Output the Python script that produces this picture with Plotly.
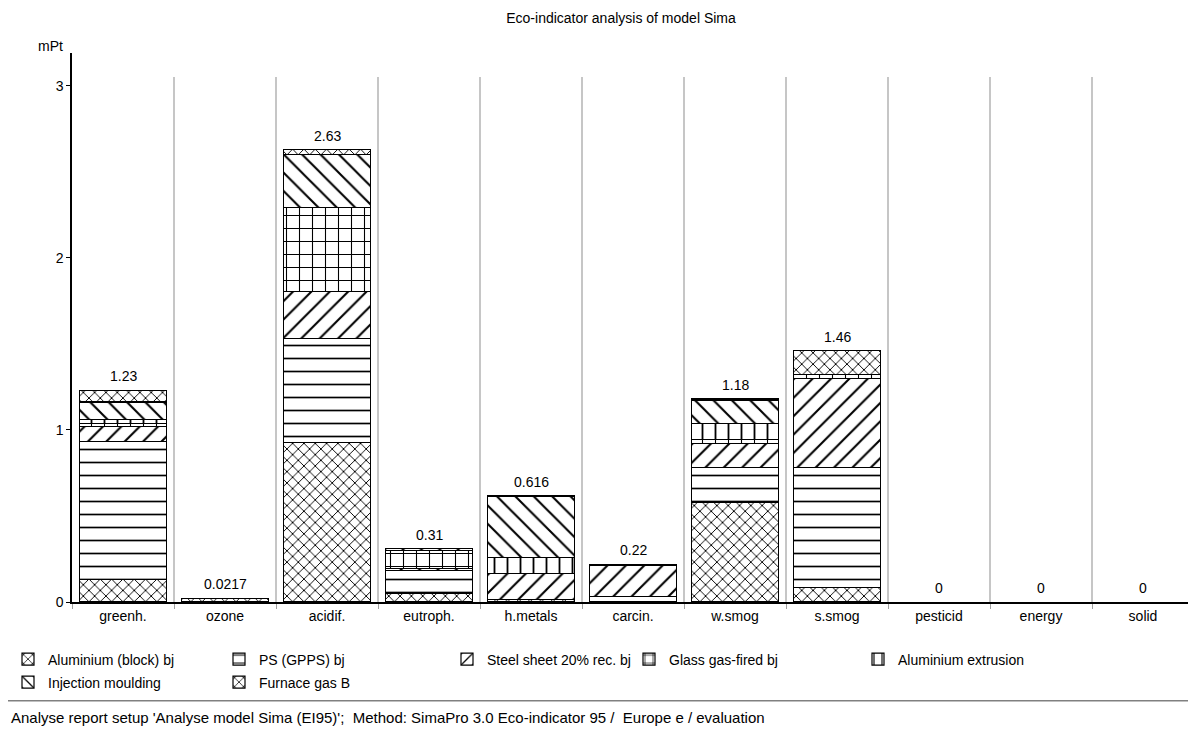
import numpy as np
import plotly.graph_objects as go

categories = ["greenh.", "ozone", "acidif.", "eutroph.", "h.metals", "carcin.",
              "w.smog", "s.smog", "pesticid", "energy", "solid"]

aluminium_block = [0.132, 0.0217, 0.926, 0.050, 0.014, 0.005, 0.580, 0.083, 0, 0, 0]
ps_gpps         = [0.800, 0.0,    0.607, 0.135, 0.0,   0.025, 0.203, 0.700, 0, 0, 0]
steel_sheet     = [0.087, 0.0,    0.271, 0.010, 0.153, 0.185, 0.139, 0.517, 0, 0, 0]
glass_gas       = [0.020, 0.0,    0.490, 0.105, 0.0,   0.005, 0.020, 0.020, 0, 0, 0]
al_extrusion    = [0.020, 0.0,    0.0,   0.0,   0.093, 0.0,   0.093, 0.0,   0, 0, 0]
injection       = [0.103, 0.0,    0.305, 0.010, 0.356, 0.0,   0.139, 0.0,   0, 0, 0]
furnace_gas     = [0.068, 0.0,    0.030, 0.0,   0.0,   0.0,   0.006, 0.140, 0, 0, 0]

total_labels = ["1.23", "0.0217", "2.63", "0.31", "0.616", "0.22", "1.18", "1.46", "0", "0", "0"]

series_names = ["Aluminium (block) bj", "PS (GPPS) bj", "Steel sheet 20% rec. bj",
                "Glass gas-fired bj", "Aluminium extrusion", "Injection moulding", "Furnace gas B"]
series_values = [aluminium_block, ps_gpps, steel_sheet, glass_gas, al_extrusion, injection, furnace_gas]

# styling per series: pattern shape, size, solidity
styles = [("x", 8, 0.22), ("-", 13, 0.13), ("/", 13, 0.16), ("+", 13, 0.16),
          ("|", 13, 0.14), ("\\", 13, 0.16), ("x", 8, 0.22)]
# legend placement (container px): left x, row index
legend_pos = [(-9, 0), (211, 0), (439, 0), (621, 0), (850, 0), (-9, 1), (211, 1)]

FONT = "Liberation Sans, Arial, sans-serif"
W, H = 1188, 737

fig = go.Figure()
legend_layouts = {}
for k, (name, vals, (shape, size, sol), (lx, row)) in enumerate(
        zip(series_names, series_values, styles, legend_pos)):
    lname = "legend" if k == 0 else f"legend{k + 1}"
    fig.add_trace(go.Bar(
        name=name, x=categories, y=vals, legend=lname,
        marker=dict(color="white",
                    line=dict(color="black", width=[1.2 if v > 0 else 0 for v in vals]),
                    pattern=dict(shape=shape, fgcolor="black", bgcolor="white",
                                 size=size, solidity=sol, fillmode="overlay", fgopacity=1)),
    ))
    legend_layouts[lname] = dict(
        orientation="h", xref="container", yref="container",
        x=lx / W, y=0.1377 - row * 23 / H, xanchor="left", yanchor="top",
        font=dict(size=14, family=FONT), bgcolor="rgba(0,0,0,0)", borderwidth=0)

totals = np.sum(series_values, axis=0)

annotations = []
for cat, tot, lab in zip(categories, totals, total_labels):
    annotations.append(dict(x=cat, y=tot, xref="x", yref="y", text=lab, showarrow=False,
                            yanchor="bottom", yshift=4,
                            font=dict(size=14, family=FONT, color="black")))

annotations += [
    dict(text="mPt", xref="paper", yref="paper", x=-0.006, y=1.013,
         xanchor="right", yanchor="middle", showarrow=False,
         font=dict(size=14, family=FONT)),
    dict(text="Analyse report setup 'Analyse model Sima (EI95)';  Method: SimaPro 3.0 Eco-indicator 95 /  Europe e / evaluation",
         xref="paper", yref="paper", x=-0.056, y=-0.211, xanchor="left", yanchor="middle",
         showarrow=False, font=dict(size=15, family=FONT)),
]

shapes = []
for i in range(len(categories)):
    shapes.append(dict(type="line", xref="x", yref="y", x0=i + 0.5, x1=i + 0.5,
                       y0=0, y1=3.05, line=dict(color="#a0a0a0", width=1.2), layer="below"))
shapes.append(dict(type="line", xref="paper", yref="paper", x0=-0.07, x1=1.01,
                   y0=-0.180, y1=-0.180, line=dict(color="#808080", width=1.5)))

fig.update_layout(
    width=W, height=H,
    margin=dict(l=64, r=2, t=45, b=143),
    paper_bgcolor="white", plot_bgcolor="white",
    barmode="stack", bargap=0.15,
    font=dict(family=FONT, size=14, color="black"),
    title=dict(text="Eco-indicator analysis of model Sima", x=0.516, xref="container",
               y=1 - 10 / H, yref="container", xanchor="center", yanchor="middle",
               font=dict(size=14, family=FONT, color="black")),
    showlegend=True,
    shapes=shapes,
    annotations=annotations,
    **legend_layouts,
)

fig.update_xaxes(type="category", range=[-0.5, 10.5], showgrid=False,
                 showline=True, linecolor="black", linewidth=1.5,
                 ticks="outside", tickson="boundaries", ticklen=5, tickcolor="#a0a0a0",
                 tickfont=dict(size=14, family=FONT), fixedrange=True)
fig.update_yaxes(range=[0, 3.19], tickvals=[0, 1, 2, 3], showgrid=False, zeroline=False,
                 showline=True, linecolor="black", linewidth=1.5,
                 ticks="outside", ticklen=4, tickcolor="black",
                 tickfont=dict(size=14, family=FONT), fixedrange=True)

fig.write_html("out.html")
